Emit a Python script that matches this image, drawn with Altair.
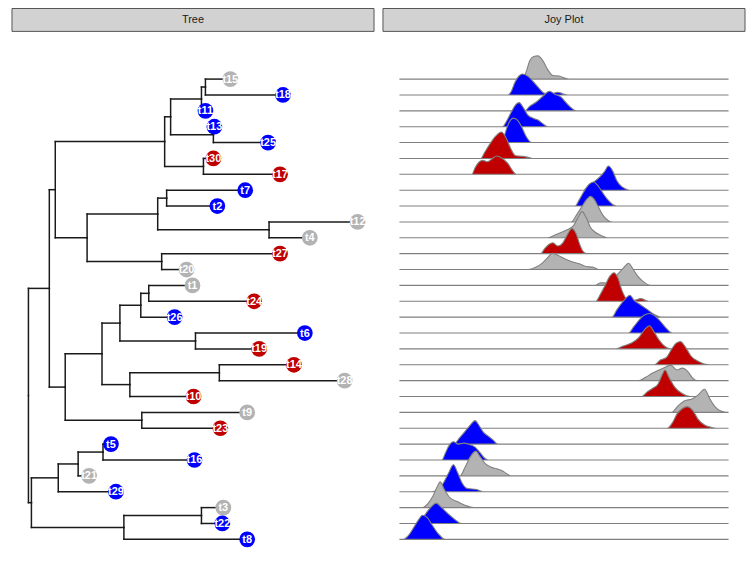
import altair as alt
import pandas as pd

# ---------------- tips (top to bottom) ----------------
tip_order = ["t15", "t18", "t11", "t13", "t25", "t30", "t17", "t7", "t2", "t12",
             "t4", "t27", "t20", "t1", "t24", "t26", "t6", "t19", "t14", "t28",
             "t10", "t9", "t23", "t5", "t16", "t21", "t29", "t3", "t22", "t8"]
tip_group = ["gray", "blue", "blue", "blue", "blue", "red", "red", "blue", "blue", "gray",
             "gray", "red", "gray", "gray", "red", "blue", "blue", "red", "red", "gray",
             "red", "gray", "red", "blue", "blue", "gray", "blue", "gray", "blue", "blue"]

# ---------------- tree topology: node, parent, depth ----------------
node_name = ["n0", "n1", "n2", "n3", "n4", "n5", "n6", "n7", "n8", "n9", "n10", "n11",
             "t15", "t18", "t11", "t13", "t25", "t30", "t17",
             "n12", "n13", "n14", "n15", "t7", "t2", "t12", "t4", "t27", "t20",
             "n16", "n17", "n18", "n19", "n20", "n21", "n22", "t1", "t24", "t26",
             "t6", "t19", "n23", "t10", "t14", "t28", "t9", "t23",
             "n24", "n25", "n26", "t29", "n27", "t21", "t5", "t16", "n28", "t8", "t3", "t22"]
node_parent = ["", "n0", "n0", "n1", "n1", "n3", "n3", "n5", "n5", "n7", "n7", "n9",
               "n11", "n11", "n9", "n10", "n10", "n8", "n8",
               "n6", "n6", "n12", "n12", "n14", "n14", "n15", "n15", "n13", "n13",
               "n4", "n4", "n16", "n16", "n18", "n18", "n20", "n22", "n22", "n20",
               "n21", "n21", "n19", "n19", "n23", "n23", "n17", "n17",
               "n2", "n2", "n24", "n24", "n26", "n26", "n27", "n27", "n25", "n25", "n28", "n28"]
node_x = [0.00, 0.21, 0.03, 0.27, 0.37, 1.37, 0.59, 1.43, 1.76, 1.74, 1.86, 1.78,
          2.03, 2.56, 1.78, 1.87, 2.41, 1.86, 2.53,
          1.30, 1.34, 1.39, 2.42, 2.18, 1.90, 3.31, 2.83, 2.53, 1.59,
          0.74, 1.14, 0.92, 1.02, 1.13, 1.68, 1.21, 1.65, 2.27, 1.47,
          2.78, 2.32, 1.92, 1.66, 2.67, 3.18, 2.20, 1.93,
          0.30, 0.96, 0.50, 0.88, 0.75, 0.61, 0.83, 1.67, 1.74, 2.20, 1.96, 1.95]

# ---------------- joy plot ridges (x, height in row units) ----------------
ridge_x = {
    "t15": [3.76, 3.86, 3.96, 4.08, 4.21, 4.36, 4.51, 4.66, 4.86, 5.02, 5.15],
    "t18": [3.30, 3.40, 3.50, 3.64, 3.74, 3.91, 4.08, 4.26, 4.41, 4.61, 4.81, 4.96, 5.12],
    "t11": [3.81, 3.96, 4.16, 4.36, 4.56, 4.71, 4.91, 5.07, 5.22, 5.37],
    "t13": [3.13, 3.25, 3.40, 3.53, 3.64, 3.76, 3.91, 4.06, 4.21, 4.36, 4.51],
    "t25": [3.07, 3.17, 3.27, 3.37, 3.47, 3.60, 3.72, 3.86, 4.02],
    "t30": [2.47, 2.60, 2.77, 2.93, 3.10, 3.23, 3.38, 3.53, 3.76, 3.94, 4.06],
    "t17": [2.20, 2.30, 2.43, 2.53, 2.67, 2.83, 2.95, 3.13, 3.30, 3.43, 3.55],
    "t7":  [5.59, 5.75, 5.92, 6.09, 6.23, 6.35, 6.48, 6.60, 6.74, 6.88, 7.00],
    "t2":  [5.33, 5.47, 5.62, 5.77, 5.90, 6.03, 6.17, 6.33, 6.48, 6.60],
    "t12": [5.22, 5.39, 5.55, 5.69, 5.80, 5.92, 6.05, 6.19, 6.35, 6.48],
    "t4":  [4.51, 4.76, 5.05, 5.29, 5.43, 5.55, 5.67, 5.80, 5.95, 6.12, 6.32],
    "t27": [4.29, 4.41, 4.54, 4.66, 4.81, 4.96, 5.09, 5.24, 5.37, 5.47, 5.57, 5.69],
    "t20": [3.91, 4.14, 4.36, 4.51, 4.64, 4.81, 5.07, 5.29, 5.47, 5.67, 5.87, 6.07],
    "t1":  [5.95, 6.12, 6.27, 6.48, 6.66, 6.81, 6.96, 7.10, 7.24, 7.40, 7.63],
    "t24": [5.97, 6.09, 6.25, 6.39, 6.52, 6.64, 6.76, 6.90, 7.13, 7.33, 7.58],
    "t26": [6.46, 6.60, 6.76, 6.90, 7.00, 7.13, 7.33, 7.56, 7.76, 7.94],
    "t6":  [6.96, 7.12, 7.28, 7.44, 7.60, 7.76, 7.94, 8.11, 8.29],
    "t19": [6.58, 6.76, 7.03, 7.28, 7.46, 7.60, 7.73, 7.89, 8.07, 8.25],
    "t14": [7.74, 7.94, 8.11, 8.27, 8.41, 8.54, 8.69, 8.87, 9.09, 9.42],
    "t28": [7.28, 7.48, 7.68, 7.89, 8.11, 8.24, 8.44, 8.59, 8.77, 8.91, 9.04],
    "t10": [7.36, 7.53, 7.70, 7.86, 7.99, 8.07, 8.19, 8.37, 8.59, 8.84],
    "t9":  [8.27, 8.47, 8.67, 8.89, 9.07, 9.27, 9.42, 9.58, 9.75, 9.98],
    "t23": [8.14, 8.29, 8.44, 8.59, 8.74, 8.91, 9.07, 9.27, 9.44, 9.65],
    "t5":  [1.66, 1.82, 1.99, 2.14, 2.30, 2.42, 2.55, 2.70, 2.85, 3.00],
    "t16": [1.29, 1.40, 1.51, 1.64, 1.79, 1.96, 2.12, 2.30, 2.45, 2.60, 2.70],
    "t21": [1.84, 1.99, 2.14, 2.32, 2.45, 2.61, 2.77, 2.97, 3.15, 3.30, 3.40],
    "t29": [0.99, 1.19, 1.34, 1.49, 1.64, 1.77, 1.90, 2.07, 2.35, 2.53],
    "t3":  [0.68, 0.86, 1.01, 1.14, 1.24, 1.36, 1.54, 1.76, 1.99, 2.25],
    "t22": [0.61, 0.77, 0.94, 1.12, 1.29, 1.49, 1.69, 1.89],
    "t8":  [0.11, 0.27, 0.43, 0.58, 0.70, 0.84, 0.99, 1.19, 1.39],
}
ridge_h = {
    "t15": [0, 0.52, 1.15, 1.42, 1.46, 1.15, 0.58, 0.23, 0.19, 0.06, 0],
    "t18": [0, 0.23, 0.75, 1.21, 1.32, 1.17, 0.81, 0.38, 0.10, 0.08, 0.17, 0.08, 0],
    "t11": [0, 0.29, 0.56, 0.92, 1.23, 1.06, 0.86, 0.50, 0.19, 0],
    "t13": [0, 0.33, 0.92, 1.38, 1.52, 1.21, 0.71, 0.54, 0.42, 0.19, 0],
    "t25": [0, 0.33, 0.96, 1.40, 1.54, 1.38, 0.96, 0.35, 0],
    "t30": [0, 0.42, 0.98, 1.42, 1.67, 1.34, 0.63, 0.17, 0.13, 0.06, 0],
    "t17": [0, 0.42, 0.79, 0.88, 0.79, 1.00, 1.15, 1.00, 0.67, 0.25, 0],
    "t7":  [0, 0.31, 0.54, 0.84, 1.17, 1.52, 1.21, 0.63, 0.25, 0.08, 0],
    "t2":  [0, 0.42, 0.96, 1.38, 1.52, 1.29, 0.86, 0.40, 0.10, 0],
    "t12": [0, 0.46, 0.98, 1.42, 1.61, 1.42, 0.92, 0.40, 0.08, 0],
    "t4":  [0, 0.21, 0.46, 0.77, 1.29, 1.65, 1.29, 0.67, 0.35, 0.15, 0],
    "t27": [0, 0.31, 0.58, 0.69, 0.48, 0.67, 1.15, 1.58, 1.25, 0.63, 0.17, 0],
    "t20": [0, 0.15, 0.44, 0.77, 1.02, 0.90, 0.63, 0.46, 0.36, 0.19, 0.15, 0],
    "t1":  [0, 0.17, 0.15, 0.35, 0.77, 1.11, 1.40, 1.02, 0.58, 0.25, 0],
    "t24": [0, 0.38, 1.00, 1.57, 1.80, 1.46, 0.69, 0.17, 0.06, 0.17, 0],
    "t26": [0, 0.44, 0.90, 1.23, 1.38, 1.06, 0.77, 0.44, 0.15, 0],
    "t6":  [0, 0.40, 0.81, 1.13, 1.23, 1.09, 0.71, 0.29, 0],
    "t19": [0, 0.15, 0.35, 0.73, 1.25, 1.46, 1.09, 0.56, 0.15, 0],
    "t14": [0, 0.31, 0.46, 0.98, 1.36, 1.46, 1.11, 0.52, 0.21, 0],
    "t28": [0, 0.21, 0.46, 0.67, 0.88, 0.98, 0.67, 0.79, 0.56, 0.15, 0],
    "t10": [0, 0.29, 0.52, 0.79, 1.40, 1.67, 1.21, 0.58, 0.19, 0],
    "t9":  [0, 0.42, 0.73, 0.84, 1.09, 1.46, 0.90, 0.38, 0.10, 0],
    "t23": [0, 0.33, 0.92, 1.23, 1.36, 1.13, 0.58, 0.21, 0.08, 0],
    "t5":  [0, 0.38, 0.79, 1.17, 1.48, 1.17, 0.75, 0.50, 0.25, 0],
    "t16": [0, 0.46, 0.92, 1.15, 1.00, 1.06, 0.98, 0.81, 0.46, 0.10, 0],
    "t21": [0, 0.52, 1.15, 1.56, 1.21, 0.77, 0.56, 0.44, 0.29, 0.08, 0],
    "t29": [0, 0.16, 0.57, 1.16, 1.70, 1.20, 0.57, 0.20, 0.14, 0],
    "t3":  [0, 0.24, 0.70, 1.28, 1.62, 1.16, 0.61, 0.38, 0.15, 0],
    "t22": [0, 0.53, 0.99, 1.28, 0.99, 0.59, 0.24, 0],
    "t8":  [0, 0.23, 0.73, 1.23, 1.52, 1.38, 0.92, 0.33, 0],
}
joy_range = [0.0, 10.0]

group_names = ["gray", "blue", "red"]
group_colors = ["#B3B3B3", "#0000FF", "#C00000"]

# ---------------- build tree layout ----------------
n_tips = len(tip_order)
xpos = dict(zip(node_name, node_x))
parent = dict(zip(node_name, node_parent))
children = {}
for n, p in zip(node_name, node_parent):
    if p:
        children.setdefault(p, []).append(n)
ypos = {t: n_tips - i for i, t in enumerate(tip_order)}


def get_y(n):
    if n not in ypos:
        ys = [get_y(c) for c in children[n]]
        ypos[n] = sum(ys) / len(ys)
    return ypos[n]


for n in node_name:
    get_y(n)

seg_rows = []
for n in node_name:
    p = parent[n]
    if not p:
        continue
    seg_rows.append(dict(x=xpos[p], x2=xpos[n], y=ypos[n], y2=ypos[n]))
    seg_rows.append(dict(x=xpos[p], x2=xpos[p], y=ypos[p], y2=ypos[n]))
seg_df = pd.DataFrame(seg_rows)

tip_df = pd.DataFrame({
    "label": tip_order,
    "group": tip_group,
    "x": [xpos[t] for t in tip_order],
    "y": [ypos[t] for t in tip_order],
})

# ---------------- ridge data ----------------
ridge_rows = []
for i, (t, g) in enumerate(zip(tip_order, tip_group)):
    base = ypos[t]
    xs = [joy_range[0]] + ridge_x[t] + [joy_range[1]]
    hs = [0] + ridge_h[t] + [0]
    for xv, hv in zip(xs, hs):
        ridge_rows.append(dict(label=t, group=g, row=i, x=xv, base=base, top=base + hv))
ridge_df = pd.DataFrame(ridge_rows)

# ---------------- scales ----------------
W, H = 364, 536
y_scale = alt.Scale(domain=[-0.71, 32.88], nice=False, zero=False)
tmax = max(node_x)
tree_x_scale = alt.Scale(domain=[-0.05 * tmax, 1.05 * tmax], nice=False, zero=False)
jspan = joy_range[1] - joy_range[0]
joy_x_scale = alt.Scale(domain=[joy_range[0] - 0.05 * jspan, joy_range[1] + 0.05 * jspan],
                        nice=False, zero=False)
fill_scale = alt.Scale(domain=group_names, range=group_colors)


def strip(title):
    sdf = pd.DataFrame({"panel": [title]})
    box = alt.Chart(sdf).mark_rect(fill="#D2D2D2", stroke="#555555", strokeWidth=1).encode(
        x=alt.value(0), x2=alt.value(W), y=alt.value(-25), y2=alt.value(-2))
    txt = alt.Chart(sdf).mark_text(fontSize=11, color="#1A1A1A", font="Liberation Sans",
                                   baseline="middle", align="center").encode(
        x=alt.value(W / 2), y=alt.value(-13.5), text="panel:N")
    return box + txt


edges = alt.Chart(seg_df).mark_rule(color="#1A1A1A", strokeWidth=1.5, strokeCap="square").encode(
    x=alt.X("x:Q", scale=tree_x_scale, axis=None),
    x2="x2:Q",
    y=alt.Y("y:Q", scale=y_scale, axis=None),
    y2="y2:Q",
)
points = alt.Chart(tip_df).mark_circle(size=250, opacity=1).encode(
    x=alt.X("x:Q", scale=tree_x_scale, axis=None),
    y=alt.Y("y:Q", scale=y_scale, axis=None),
    fill=alt.Fill("group:N", scale=fill_scale, legend=None),
)
labels = alt.Chart(tip_df).mark_text(color="white", fontSize=11, fontWeight="bold",
                                     font="Liberation Sans",
                                     align="center", baseline="middle", dy=0.5).encode(
    x=alt.X("x:Q", scale=tree_x_scale, axis=None),
    y=alt.Y("y:Q", scale=y_scale, axis=None),
    text="label:N",
)
tree = (strip("Tree") + edges + points + labels).properties(width=W, height=H)

ridges = alt.Chart(ridge_df).mark_area(interpolate="monotone", stroke="#808080",
                                       strokeWidth=1.1, opacity=1).encode(
    x=alt.X("x:Q", scale=joy_x_scale, axis=None),
    y=alt.Y("top:Q", scale=y_scale, axis=None),
    y2="base:Q",
    fill=alt.Fill("group:N", scale=fill_scale, legend=None),
    detail="row:O",
)
joy = (strip("Joy Plot") + ridges).properties(width=W, height=H)

chart = alt.hconcat(tree, joy, spacing=7).properties(
    padding={"left": 3, "top": -2, "right": 0, "bottom": 0}
).configure_view(stroke=None)

chart.save("out.html", embed_options={"renderer": "svg", "actions": False})
